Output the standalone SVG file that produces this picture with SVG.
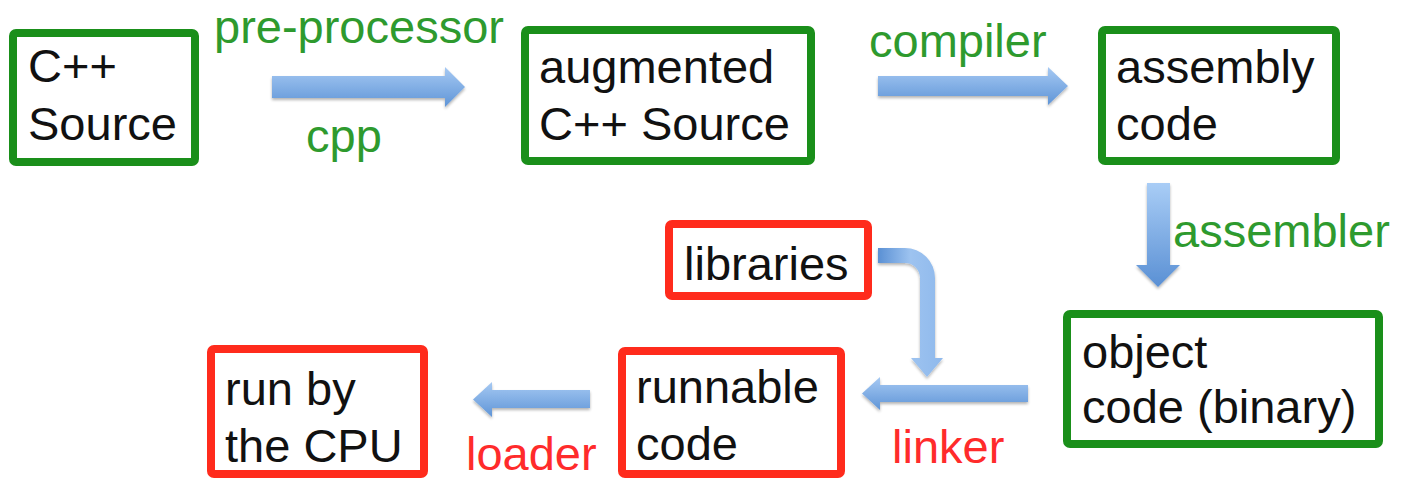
<svg xmlns="http://www.w3.org/2000/svg" width="1413" height="480" viewBox="0 0 1413 480">
<defs>
<linearGradient id="gh" x1="0" y1="0" x2="0" y2="1">
<stop offset="0" stop-color="#a6c9f3"/>
<stop offset="1" stop-color="#5f95d7"/>
</linearGradient>
<linearGradient id="gv" x1="0" y1="0" x2="0" y2="1">
<stop offset="0" stop-color="#a9cdf6"/>
<stop offset="1" stop-color="#5a90d4"/>
</linearGradient>
<linearGradient id="gb" x1="0" y1="0" x2="1" y2="0">
<stop offset="0" stop-color="#5a90d4"/>
<stop offset="0.5" stop-color="#9dc3f0"/>
<stop offset="1" stop-color="#8fb9ec"/>
</linearGradient>
<filter id="sh" x="-10%" y="-20%" width="130%" height="150%">
<feGaussianBlur in="SourceAlpha" stdDeviation="1.5"/>
<feOffset dx="0" dy="2" result="b"/>
<feComponentTransfer><feFuncA type="linear" slope="0.3"/></feComponentTransfer>
<feMerge><feMergeNode/><feMergeNode in="SourceGraphic"/></feMerge>
</filter>
</defs>
<style>
.g{fill:#fff;stroke:#1a8f1a;stroke-width:8}
.r{fill:#fff;stroke:#ff2b1c;stroke-width:8}
.t{font-family:"Liberation Sans",Arial,sans-serif;font-size:47px;fill:#111}
.lg{font-family:"Liberation Sans",Arial,sans-serif;font-size:47px;fill:#2e9a2e}
.lr{font-family:"Liberation Sans",Arial,sans-serif;font-size:47px;fill:#ff2b2b}
.a{filter:url(#sh)}
</style>
<rect width="1413" height="480" fill="#fff"/>
<g id="cpp-source">
<rect class="g" x="13" y="33" width="182" height="129" rx="3"/>
<text class="t" x="28" y="82">C++</text>
<text class="t" x="28" y="140">Source</text>
</g>
<g id="augmented">
<rect class="g" x="525" y="30" width="286" height="131" rx="3"/>
<text class="t" x="539" y="83">augmented</text>
<text class="t" x="539" y="140">C++ Source</text>
</g>
<g id="assembly">
<rect class="g" x="1102" y="30" width="234" height="131" rx="3"/>
<text class="t" x="1116" y="83">assembly</text>
<text class="t" x="1116" y="140">code</text>
</g>
<g id="object">
<rect class="g" x="1067" y="314" width="312" height="130" rx="3"/>
<text class="t" x="1082" y="368">object</text>
<text class="t" x="1082" y="423">code (binary)</text>
</g>
<g id="libraries">
<rect class="r" x="669" y="224" width="199" height="72" rx="3"/>
<text class="t" x="684" y="280">libraries</text>
</g>
<g id="runnable">
<rect class="r" x="622" y="351" width="219" height="123" rx="3"/>
<text class="t" x="636" y="403">runnable</text>
<text class="t" x="636" y="460">code</text>
</g>
<g id="cpu">
<rect class="r" x="211" y="349" width="213" height="125" rx="3"/>
<text class="t" x="225" y="405">run by</text>
<text class="t" x="225" y="462">the CPU</text>
</g>
<g id="connectors">
<path class="a" fill="url(#gh)" d="M272,76 H445 V67 L465,87 L445,107 V98 H272 Z"/>
<path class="a" fill="url(#gh)" d="M878,76 H1048 V67 L1068,86 L1048,105 V96 H878 Z"/>
<path class="a" fill="url(#gv)" d="M1147,183 H1170 V265 H1180 L1158,287 L1136,265 H1147 Z"/>
<path class="a" fill="url(#gb)" d="M878,248 H905 A30,30 0 0 1 935,278 V358 H943 L927,377 L911,358 H920 V278 A15,15 0 0 0 905,263 H878 Z"/>
<path class="a" fill="url(#gh)" d="M1028,385 V402 H880 V410 L862,393.5 L880,377 V385 Z"/>
<path class="a" fill="url(#gh)" d="M590,390 V408 H492 V417 L473,399.5 L492,382 V390 Z"/>
<text class="lg" x="214" y="43">pre-processor</text>
<text class="lg" x="306" y="152">cpp</text>
<text class="lg" x="869" y="57">compiler</text>
<text class="lg" x="1173" y="247">assembler</text>
<text class="lr" x="892" y="463">linker</text>
<text class="lr" x="466" y="470">loader</text>
</g>
</svg>
